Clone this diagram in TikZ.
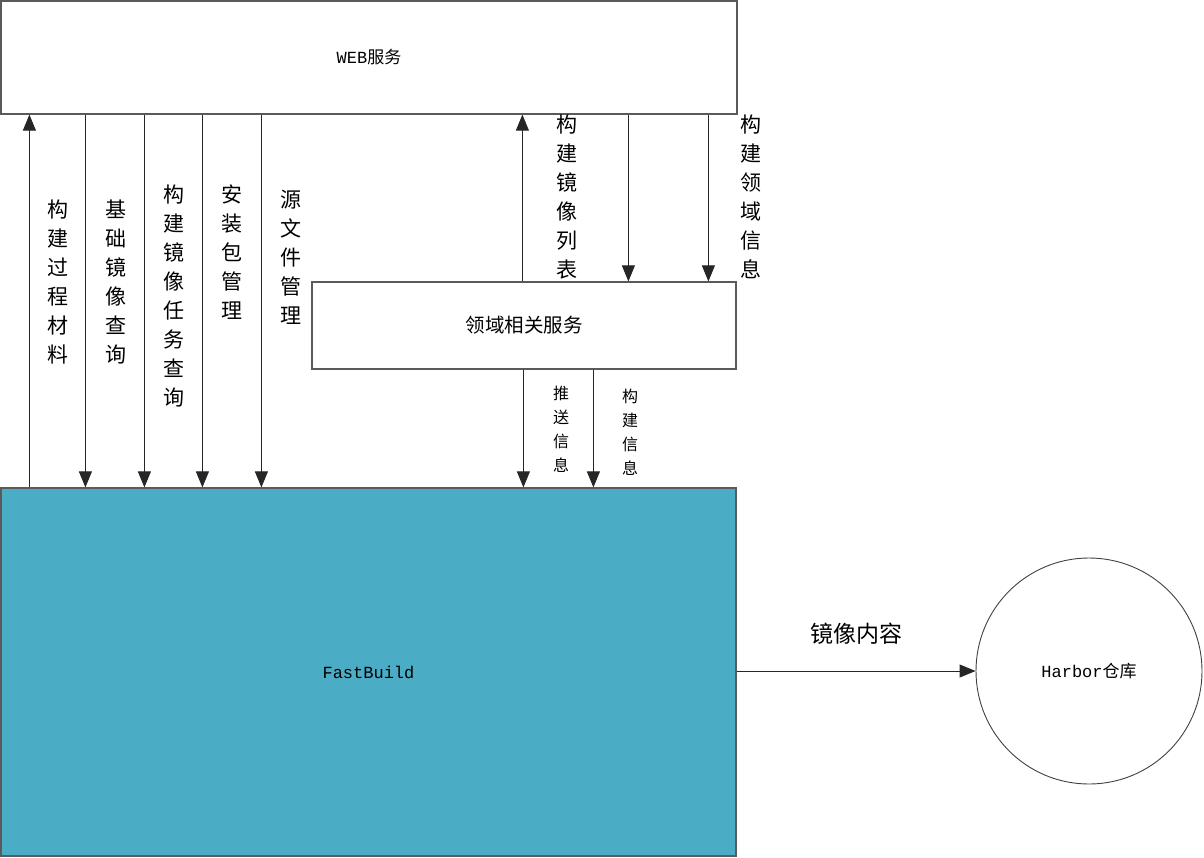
\documentclass[tikz,border=0pt]{standalone}
\usepackage{fontspec}
\usetikzlibrary{arrows.meta,positioning}
\setmainfont{Noto Sans CJK SC}
\setmonofont{Liberation Mono}
\definecolor{fbteal}{HTML}{4BACC6}
\definecolor{edgegray}{HTML}{5A5A5A}

\begin{document}
\begin{tikzpicture}[x=1pt,y=-1pt,
			box/.style={draw=edgegray,line width=1.2pt,font=\fontsize{17}{20}\selectfont},
			flow/.style={draw=black!85,line width=0.9pt,-{Triangle[length=16pt,width=13pt]}},
			vlab/.style={align=center,inner sep=0pt,font=\fontsize{21}{29}\selectfont},
			slab/.style={align=center,inner sep=0pt,font=\fontsize{16}{24}\selectfont}
			]
			\useasboundingbox (0,0) rectangle (1204,857);
			\node[box,minimum width=736pt,minimum height=113pt] (web) at (369,57.5) {{\ttfamily WEB}服务};
			\node[box,minimum width=424pt,minimum height=87pt,font=\fontsize{19.5}{22}\selectfont] (dom) at (524,325.5) {领域相关服务};
			\node[box,fill=fbteal,minimum width=735pt,minimum height=368pt] (fb) at (368.5,672) {\ttfamily FastBuild};
			\node[circle,draw=black!75,line width=0.9pt,minimum size=226pt,font=\fontsize{17}{20}\selectfont] (harbor) at (1089,671) {{\ttfamily Harbor}仓库};
			% WEB <-> FastBuild
			\draw[flow] ([xshift=29pt]fb.north west) -- ([xshift=29pt]web.south west);
			\draw[flow] ([xshift=85pt]web.south west) -- ([xshift=85pt]fb.north west);
			\draw[flow] ([xshift=144pt]web.south west) -- ([xshift=144pt]fb.north west);
			\draw[flow] ([xshift=202pt]web.south west) -- ([xshift=202pt]fb.north west);
			\draw[flow] ([xshift=261pt]web.south west) -- ([xshift=261pt]fb.north west);
			\node[vlab] (mat) at (58,282) {构\\建\\过\\程\\材\\料};
			\node[vlab] (base) at (116,282) {基\\础\\镜\\像\\查\\询};
			\node[vlab] (task) at (174,296) {构\\建\\镜\\像\\任\\务\\查\\询};
			\node[vlab] (pkg) at (232,252) {安\\装\\包\\管\\理};
			\node[vlab] (src) at (291,257) {源\\文\\件\\管\\理};
			% WEB <-> 领域相关服务
			\draw[flow] ([xshift=211pt]dom.north west) -- ([xshift=211pt]dom.north west |- web.south);
			\draw[flow] ([xshift=317pt]dom.north west |- web.south) -- ([xshift=317pt]dom.north west);
			\draw[flow] ([xshift=397pt]dom.north west |- web.south) -- ([xshift=397pt]dom.north west);
			\node[vlab] (imglist) at (567,197) {构\\建\\镜\\像\\列\\表};
			\node[vlab] (dominfo) at (751,197) {构\\建\\领\\域\\信\\息};
			% 领域相关服务 -> FastBuild
			\draw[flow] ([xshift=212pt]dom.south west) -- ([xshift=212pt]dom.south west |- fb.north);
			\draw[flow] ([xshift=282pt]dom.south west) -- ([xshift=282pt]dom.south west |- fb.north);
			\node[slab] (push) at (561,429) {推\\送\\信\\息};
			\node[slab] (build) at (630,432) {构\\建\\信\\息};
			% FastBuild -> Harbor
			\draw[flow] (fb.east |- harbor.west) -- node[above=26pt,inner sep=0pt,font=\fontsize{23}{25}\selectfont] (cont) {镜像内容} (harbor.west);
		\end{tikzpicture}
\end{document}
